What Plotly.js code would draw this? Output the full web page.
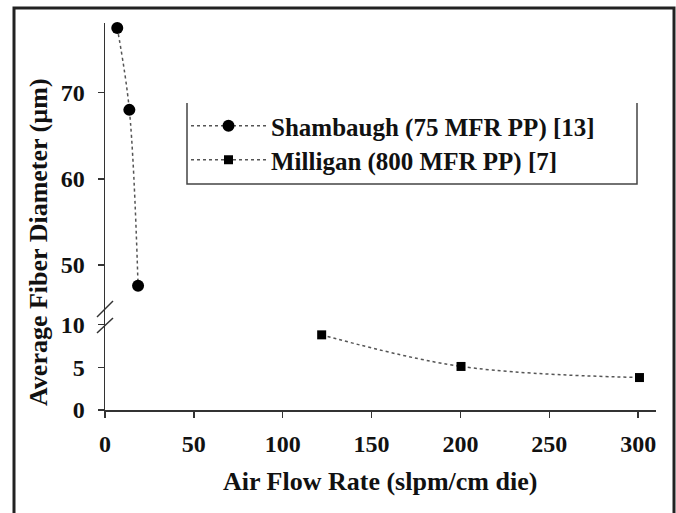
<!DOCTYPE html>
<html>
<head>
<meta charset="utf-8">
<script src="https://cdn.plot.ly/plotly-3.0.1.min.js"></script>
<style>html,body{margin:0;padding:0;background:#fff;}#chart{width:676px;height:513px;}</style>
</head>
<body>
<div id="chart"></div>
<script>
// Data
var shambaughX = [6.9, 13.7, 18.6];
var shambaughY = [77.5, 68.0, 47.6];
var milliganX = [121.9, 200.3, 300.7];
var milliganY = [8.8, 5.1, 3.8];
var xTicks = [0, 50, 100, 150, 200, 250, 300];
var yLowTicks = [0, 5, 10];
var yHighTicks = [50, 60, 70];
var seriesNames = ["Shambaugh (75 MFR PP) [13]", "Milligan (800 MFR PP) [7]"];

var W = 676, H = 513;
var L = 105, R = 656, T = 23, B = 410;
function px(x){ return (x - L) / (R - L); }
function py(y){ return (B - y) / (B - T); }
var split = py(316);

var serif = "Liberation Serif";
var tickFont = {family: serif, size: 24, color: "#111", weight: "bold"};
var legendFont = {family: serif, size: 25, color: "#111", weight: "bold"};

var traces = [
  {
    x: shambaughX, y: shambaughY, xaxis: "x", yaxis: "y2", legend: "legend",
    name: seriesNames[0], mode: "lines+markers", cliponaxis: false,
    line: {color: "#555", width: 1.5, dash: "dot", shape: "spline"},
    marker: {symbol: "circle", size: 12, color: "#000"}
  },
  {
    x: milliganX, y: milliganY, xaxis: "x", yaxis: "y", legend: "legend2",
    name: seriesNames[1], mode: "lines+markers", cliponaxis: false,
    line: {color: "#555", width: 1.5, dash: "dot", shape: "spline"},
    marker: {symbol: "square", size: 9, color: "#000"}
  }
];

var axisCommon = {
  showgrid: false, zeroline: false, showline: true, linecolor: "#333", linewidth: 1.5,
  ticks: "outside", ticklen: 6, tickwidth: 1.5, tickcolor: "#333", tickfont: tickFont
};

function legendAt(top){
  return {
    x: px(186), y: py(top), xanchor: "left", yanchor: "top",
    font: legendFont, bgcolor: "rgba(0,0,0,0)", borderwidth: 0, itemwidth: 75
  };
}

var layout = {
  width: W, height: H,
  font: {family: serif},
  margin: {l: L, r: W - R, t: T, b: H - B},
  paper_bgcolor: "#fff", plot_bgcolor: "#fff",
  showlegend: true,
  legend: legendAt(103),
  legend2: legendAt(137),
  xaxis: Object.assign({}, axisCommon, {
    range: [0, 310], tickvals: xTicks, ticktext: xTicks.map(String), anchor: "y", ticklabelstandoff: 6
  }),
  yaxis: Object.assign({}, axisCommon, {
    domain: [0, split], range: [0, (B - 316) / 8.54], tickvals: yLowTicks, ticktext: yLowTicks.map(String),
    anchor: "x", ticklabelstandoff: 8
  }),
  yaxis2: Object.assign({}, axisCommon, {
    domain: [split, 1], range: [50 - (316 - 265) / 8.63, 70 + (92.7 - T) / 8.63],
    tickvals: yHighTicks, ticktext: yHighTicks.map(String), anchor: "x", ticklabelstandoff: 8
  }),
  annotations: [
    {text: "Air Flow Rate (slpm/cm die)", xref: "paper", yref: "paper", x: px(380), y: py(481),
     xanchor: "center", yanchor: "middle", showarrow: false,
     font: {family: serif, size: 26, color: "#111", weight: "bold"}},
    {text: "Average Fiber Diameter (\u00b5m)", xref: "paper", yref: "paper", x: px(38), y: py(242),
     xanchor: "center", yanchor: "middle", showarrow: false, textangle: -90,
     font: {family: serif, size: 26, color: "#111", weight: "bold"}}
  ],
  shapes: [
    {type: "rect", xref: "paper", yref: "paper", x0: px(14), x1: px(674), y0: py(530), y1: py(8),
     line: {color: "#222", width: 3}, layer: "above"},
    {type: "path", xref: "paper", yref: "paper",
     path: "M" + px(187) + "," + py(103) + " L" + px(187) + "," + py(184) + " L" + px(637) + "," + py(184) + " L" + px(637) + "," + py(103),
     line: {color: "#444", width: 1.5}},
    {type: "line", xref: "paper", yref: "paper", x0: px(97), y0: py(317), x1: px(113), y1: py(301),
     line: {color: "#333", width: 1.5}},
    {type: "line", xref: "paper", yref: "paper", x0: px(97), y0: py(333), x1: px(113), y1: py(318),
     line: {color: "#333", width: 1.5}}
  ]
};

Plotly.newPlot("chart", traces, layout, {displayModeBar: false, staticPlot: true});
</script>
</body>
</html>
